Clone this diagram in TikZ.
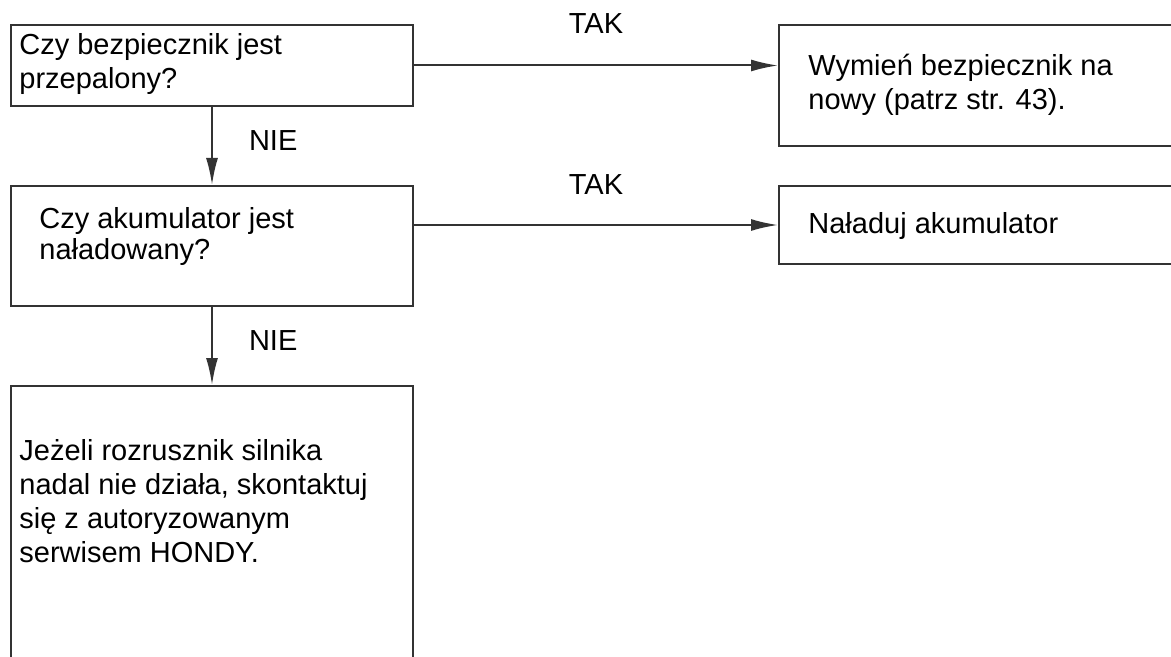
\documentclass[tikz,border=0pt]{standalone}
\usepackage{fontspec}
\setmainfont{Liberation Sans}
\usepackage{tikz}
\usetikzlibrary{calc}
\usetikzlibrary{positioning}
\usetikzlibrary{arrows.meta}
\definecolor{LineaGris}{HTML}{333333}

\begin{document}
\begin{tikzpicture}[x = .5pt, y = -.5pt,
    box/.style = {draw = LineaGris, line width = 1pt, inner sep = 0pt,
      anchor = north west},
    txt/.style = {inner sep = 0pt, anchor = base west, align = left,
      font = \fontsize{14.5}{17}\selectfont},
    lbl/.style = {inner sep = 0pt, font = \fontsize{14.5}{17}\selectfont},
    arr/.style = {draw = LineaGris, line width = 1pt,
      -{Latex[length = 13.5pt, width = 6pt]}}]

  \path[use as bounding box, clip] (0,0) rectangle (1171,657);

  % questions on the left
  \node[box, minimum width = 201pt, minimum height = 40.5pt] (q1) at (10,24) {};
  \node[box, minimum width = 201pt, minimum height = 60pt] (q2) at (10,185) {};
  \node[box, minimum width = 201pt, minimum height = 158pt] (hint) at (10,385) {};

  % answers on the right
  \node[box, minimum width = 204pt, minimum height = 60.5pt] (a1) at (778,24) {};
  \node[box, minimum width = 204pt, minimum height = 39pt] (a2) at (778,185) {};

  % base = last line of each text
  \node[txt] (q1t) at ($(q1.north west)+(9,65)$)
    {Czy bezpiecznik jest\\przepalony?};
  \node[txt, font = \fontsize{14.5}{15.5}\selectfont] (q2t) at ($(q2.north west)+(29,75)$)
    {Czy akumulator jest\\naładowany?};
  \node[txt] (hintt) at ($(hint.north west)+(9,177)$)
    {Jeżeli rozrusznik silnika\\nadal nie działa, skontaktuj\\się z autoryzowanym\\serwisem HONDY.};
  \node[txt] (a1t) at ($(a1.north west)+(30,86)$)
    {Wymień bezpiecznik na\\nowy (patrz str. 43).};
  \node[txt] (a2t) at ($(a2.north west)+(30,49)$)
    {Naładuj akumulator};

  \draw[arr] (q1.east) -- (q1.east -| a1.west)
    node[lbl, midway, above = 15.5pt] (tak1) {TAK};
  \draw[arr] ([yshift = 10.5pt]q2.east) -- (a2.west)
    node[lbl, midway, above = 14.5pt] (tak2) {TAK};

  \draw[arr] (q1.south) -- (q2.north)
    node[lbl, midway, right = 18pt, yshift = 2.5pt] (nie1) {NIE};
  \draw[arr] (q2.south) -- (hint.north)
    node[lbl, midway, right = 18pt, yshift = 2.5pt] (nie2) {NIE};
\end{tikzpicture}
\end{document}
